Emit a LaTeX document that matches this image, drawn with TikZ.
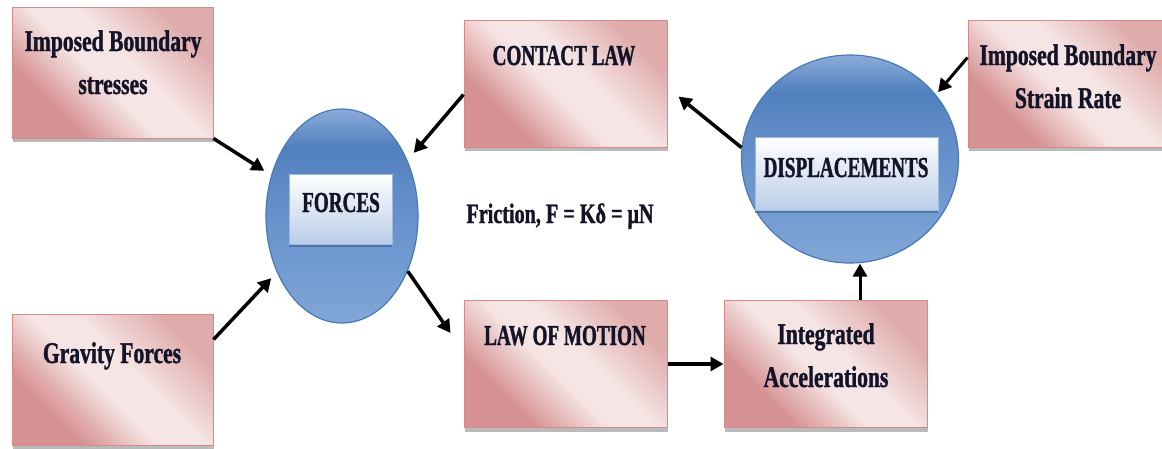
\documentclass[tikz,border=0pt]{standalone}
\usepackage{fontspec}
\setmainfont{Liberation Serif}[FakeStretch=0.66,BoldFeatures={FakeBold=1.2}]
\newfontfamily\lcfont{Liberation Serif}[FakeStretch=0.72,BoldFeatures={FakeBold=1.2}]
\usetikzlibrary{shapes.geometric,arrows.meta,shadows,calc}
\definecolor{pdark}{RGB}{214,146,146}
\definecolor{plight}{RGB}{246,229,229}
\definecolor{pborder}{RGB}{212,138,138}
\definecolor{bl1}{RGB}{130,166,215}
\definecolor{bl2}{RGB}{110,152,207}
\definecolor{bl3}{RGB}{94,138,198}
\definecolor{bl4}{RGB}{80,128,190}
\definecolor{bl5}{RGB}{140,172,217}
\definecolor{bedge}{RGB}{72,120,184}
\definecolor{txt}{RGB}{20,20,40}
\pgfdeclareverticalshading{pinkdiag}{100bp}{color(0bp)=(pdark); color(30bp)=(pdark); color(46bp)=(plight); color(56bp)=(plight); color(74bp)=(pdark!70!plight); color(100bp)=(pdark!70!plight)}
\pgfdeclareverticalshading{blueell}{100bp}{color(0bp)=(bl1); color(25bp)=(bl1); color(42bp)=(bl2); color(58bp)=(bl3); color(66bp)=(bl4); color(75bp)=(bl5); color(100bp)=(bl5)}
\begin{document}
\begin{tikzpicture}[x=1pt,y=-1pt,
  pinkbox/.style={draw=pborder, line width=1pt, shading=pinkdiag, shading angle=-45,
    minimum width=203pt, minimum height=127pt, inner sep=0pt,
    drop shadow={shadow xshift=1pt, shadow yshift=-4pt, opacity=0.45, fill=black!60}},
  bellipse/.style={ellipse, draw=bedge, line width=1.2pt, shading=blueell, inner sep=0pt},
  innerrect/.style={rectangle, draw=bl3!60!white, line width=0.6pt, top color=white, bottom color={rgb,255:red,186;green,205;blue,232}, inner sep=0pt,
    drop shadow={shadow xshift=0pt, shadow yshift=-3pt, opacity=0.6, fill=bedge!80!black}},
  lbl/.style={font=\fontsize{29}{43}\selectfont\bfseries, text=txt, align=center, inner sep=0pt},
  lcl/.style={font=\lcfont\fontsize{30}{43}\selectfont\bfseries, text=txt, align=center, inner sep=0pt},
  arr/.style={line width=3.5pt, black, -{Triangle[length=13pt,width=14pt]}}
]
\useasboundingbox (0,0) rectangle (1162,448);

% boxes
\node[pinkbox, minimum width=201pt, minimum height=131pt] (ibs) at (112.5,72.5) {};
\node[pinkbox, minimum width=201pt, minimum height=131pt] (grav) at (112.5,379.5) {};
\node[pinkbox] (contact) at (565.5,83.5) {};
\node[pinkbox] (motion) at (565.5,364) {};
\node[pinkbox] (integ) at (825.5,364) {};
\node[pinkbox] (strain) at (1069.5,83.5) {};

\node[lcl, anchor=base] (ibsT) at (113,94) {Imposed Boundary\\stresses};
\node[lcl, anchor=base] (gravT) at (112,363) {Gravity Forces};
\node[lbl, anchor=base] (contactT) at (564,65) {CONTACT LAW};
\node[lbl, anchor=base] (motionT) at (565,345) {LAW OF MOTION};
\node[lcl, anchor=base] (integT) at (826,387) {Integrated\\Accelerations};
\node[lcl, anchor=base] (strainT) at (1068,108) {Imposed Boundary\\Strain Rate};

% ellipses
\node[bellipse, minimum width=152pt, minimum height=214pt] (forces) at (342,216) {};
\node[innerrect, minimum width=103pt, minimum height=70pt] (forcesR) at (340.5,209) {};
\node[lbl, anchor=base] (forcesT) at (341,212) {FORCES};

\node[bellipse, minimum width=217pt, minimum height=208pt] (disp) at (850,159) {};
\node[innerrect, minimum width=183pt, minimum height=73pt] (dispR) at (846.5,173.5) {};
\node[lbl, anchor=base] (dispT) at (846,177) {DISPLACEMENTS};

\node[lcl, anchor=base, font=\lcfont\fontsize{28}{32}\selectfont\bfseries] (fric) at (560,223) {Friction, F = Kδ = μN};

% arrows
\draw[arr, shorten >=8pt] (ibs.south east) -- (forces.150);
\draw[arr] ([yshift=-26pt]grav.north east) -- ($(forces.220)+(-5,7)$);
\draw[arr] ([yshift=-11pt]contact.west) -- ($(forces.40)+(6,-8)$);
\draw[arr] (forces.-40) -- ([xshift=-13pt,yshift=-33pt]motion.north west);
\draw[arr] (motion.east) -- (integ.west);
\draw[arr, line width=3pt] ([xshift=34.5pt]integ.north) -- ([xshift=10pt]disp.south);
\draw[arr] (disp.174) -- ([xshift=11pt,yshift=-13pt]contact.east);
\draw[arr, line width=3pt] ([yshift=26pt]strain.west) -- ($(disp.40)+(6,2)$);
\end{tikzpicture}
\end{document}
